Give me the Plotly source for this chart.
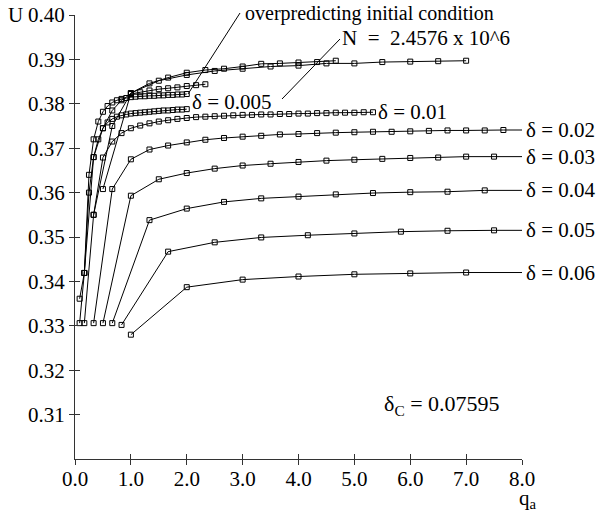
import plotly.graph_objects as go

FONT = "Liberation Serif, Times New Roman, serif"

# ---------------- data ----------------
d06_q = [1.0, 2.0, 3.0, 4.0, 5.0, 6.0, 7.0]
d06_u = [0.3280, 0.3387, 0.3404, 0.3411, 0.3416, 0.3418, 0.3420]

d05_q = [0.833, 1.667, 2.5, 3.333, 4.167, 5.0, 5.833, 6.667, 7.5]
d05_u = [0.3302, 0.3467, 0.3488, 0.3499, 0.3504, 0.3508, 0.3512, 0.3514, 0.3515]

d04_q = [0.667, 1.333, 2.0, 2.667, 3.333, 4.0, 4.667, 5.333, 6.0, 6.667, 7.333]
d04_u = [0.3306, 0.3538, 0.3564, 0.3579, 0.3587, 0.3591, 0.3596, 0.3599, 0.3601, 0.3602, 0.3605]

d03_q = [0.5, 1.0, 1.5, 2.0, 2.5, 3.0, 3.5, 4.0, 4.5, 5.0, 5.5, 6.0, 6.5, 7.0, 7.5]
d03_u = [0.3306, 0.3593, 0.3630, 0.3644, 0.3654, 0.3661, 0.3665, 0.3669, 0.3672,
         0.3674, 0.3676, 0.3678, 0.3679, 0.3681, 0.3681]

d02_q = [0.333, 0.667, 1.0, 1.333, 1.667, 2.0, 2.333, 2.667, 3.0, 3.333, 3.667, 4.0,
         4.333, 4.667, 5.0, 5.333, 5.667, 6.0, 6.333, 6.667, 7.0, 7.333, 7.667]
d02_u = [0.3306, 0.3608, 0.3675, 0.3697, 0.3706, 0.3713, 0.3719, 0.3723, 0.3726, 0.3728,
         0.3731, 0.3732, 0.3734, 0.3735, 0.3736, 0.3737, 0.3737, 0.3738, 0.3739, 0.3740,
         0.3740, 0.3740, 0.3741]

d01_q = [0.167, 0.333, 0.5, 0.667, 0.833, 1.0, 1.167, 1.333, 1.5, 1.667, 1.833, 2.0,
         2.167, 2.333, 2.5, 2.667, 2.833, 3.0, 3.167, 3.333, 3.5, 3.667, 3.833, 4.0,
         4.167, 4.333, 4.5, 4.667, 4.833, 5.0, 5.167, 5.333]
d01_u = [0.3306, 0.3550, 0.3679, 0.3715, 0.3734, 0.3745, 0.3751, 0.3756, 0.3760, 0.3763,
         0.3766, 0.3768, 0.3770, 0.3771, 0.3772, 0.3773, 0.3774, 0.3775, 0.3775, 0.3776,
         0.3776, 0.3777, 0.3777, 0.3778, 0.3778, 0.3779, 0.3779, 0.3780, 0.3780, 0.3780,
         0.3781, 0.3781]

d005_q = [0.083, 0.167, 0.25, 0.333, 0.417, 0.5, 0.583, 0.667, 0.75, 0.833, 0.917, 1.0,
          1.083, 1.167, 1.25, 1.333, 1.417, 1.5, 1.583, 1.667, 1.75, 1.833, 1.917, 2.0]
d005_u = [0.3306, 0.3419, 0.3600, 0.3680, 0.3720, 0.3745, 0.3758, 0.3766, 0.3771, 0.3774,
          0.3776, 0.3778, 0.3779, 0.3780, 0.3781, 0.3782, 0.3783, 0.3784, 0.3785, 0.3785,
          0.3786, 0.3787, 0.3787, 0.3788]

over_q = [0.083, 0.167, 0.25, 0.333, 0.417, 0.5, 0.583, 0.667, 0.75, 0.833, 0.917, 1.0,
          1.083, 1.167, 1.25, 1.333, 1.417, 1.5, 1.583, 1.667, 1.75, 1.833, 1.917, 2.0]
over_u = [0.3361, 0.3419, 0.3640, 0.3720, 0.3760, 0.3782, 0.3795, 0.3803, 0.3808, 0.3811,
          0.3813, 0.3815, 0.3816, 0.3817, 0.3817, 0.3818, 0.3818, 0.3819, 0.3819, 0.3820,
          0.3820, 0.3821, 0.3821, 0.3822]

m1_q = [0.167, 0.333, 0.5, 0.667, 0.833, 1.0, 1.167, 1.333, 1.5, 1.667, 1.833, 2.0, 2.167, 2.333]
m1_u = [0.3419, 0.3680, 0.3745, 0.3785, 0.3808, 0.3822, 0.3826, 0.3830, 0.3833, 0.3835,
        0.3837, 0.3840, 0.3842, 0.3844]

m2_q = [0.333, 0.667, 1.0, 1.333, 1.667, 2.0, 2.333, 2.667, 3.0, 3.333, 3.667, 4.0, 4.333, 4.667]
m2_u = [0.3550, 0.3750, 0.3824, 0.3846, 0.3859, 0.3870, 0.3876, 0.3879, 0.3884, 0.3890,
        0.3891, 0.3893, 0.3894, 0.3897]

n_q = [0.5, 1.0, 1.5, 2.0, 2.5, 3.0, 3.5, 4.0, 4.5, 5.0, 5.5, 6.0, 6.5, 7.0]
n_u = [0.3608, 0.3824, 0.3852, 0.3865, 0.3874, 0.3879, 0.3884, 0.3886, 0.3891, 0.3891,
       0.3894, 0.3895, 0.3896, 0.3897]

labelled = [(d02_q, d02_u, "δ = 0.02"), (d03_q, d03_u, "δ = 0.03"),
            (d04_q, d04_u, "δ = 0.04"), (d05_q, d05_u, "δ = 0.05"),
            (d06_q, d06_u, "δ = 0.06")]
plain = [(d01_q, d01_u), (d005_q, d005_u), (over_q, over_u), (m1_q, m1_u),
         (m2_q, m2_u), (n_q, n_u)]

x_ticks = [0, 1, 2, 3, 4, 5, 6, 7, 8]
x_ticktext = ["0.0", "1.0", "2.0", "3.0", "4.0", "5.0", "6.0", "7.0", "8.0"]
y_ticks = [0.31, 0.32, 0.33, 0.34, 0.35, 0.36, 0.37, 0.38, 0.39, 0.40]
y_ticktext = ["0.31", "0.32", "0.33", "0.34", "0.35", "0.36", "0.37", "0.38", "0.39", "0.40"]
X_MAX = 8.0

# ---------------- layout geometry ----------------
W, H = 606, 519
L, R, T, B = 75, 84, 15, 60
PW, PH = W - L - R, H - T - B


def px(xp):
    return (xp - L) / PW


def py(yp):
    return 1 - (yp - T) / PH


fig = go.Figure()
line_style = dict(color="black", width=1)
marker_style = dict(symbol="square-open", size=5, color="black", line=dict(width=1, color="black"))

for q, u in plain:
    fig.add_trace(go.Scatter(x=q, y=u, mode="lines+markers", line=line_style,
                             marker=marker_style, showlegend=False, hoverinfo="skip"))
for q, u, _ in labelled:
    fig.add_trace(go.Scatter(x=q, y=u, mode="lines+markers", line=line_style,
                             marker=marker_style, showlegend=False, hoverinfo="skip"))
    fig.add_trace(go.Scatter(x=[q[-1], X_MAX], y=[u[-1], u[-1]], mode="lines",
                             line=line_style, showlegend=False, hoverinfo="skip",
                             cliponaxis=False))

# dummy trace for the overlay axes (ticks on the inner side)
fig.add_trace(go.Scatter(x=[0], y=[0.3], xaxis="x2", yaxis="y2", mode="markers",
                         marker=dict(opacity=0), showlegend=False, hoverinfo="skip"))

tickfont = dict(family=FONT, size=21, color="black")
axis_common = dict(showgrid=False, zeroline=False, showline=True, linecolor="#333",
                   linewidth=1, ticks="outside", ticklen=5, tickcolor="#333", tickwidth=1)

fig.update_layout(
    width=W, height=H,
    margin=dict(l=L, r=R, t=T, b=B, pad=0),
    paper_bgcolor="white", plot_bgcolor="white",
    showlegend=False,
    xaxis=dict(range=[0, X_MAX], tickvals=x_ticks, ticktext=x_ticktext,
               tickfont=tickfont, automargin=False, ticklabelstandoff=-4, **axis_common),
    yaxis=dict(range=[0.30, 0.40], tickvals=y_ticks, ticktext=y_ticktext,
               tickfont=tickfont, automargin=False, **axis_common),
    xaxis2=dict(range=[0, X_MAX], overlaying="x", tickvals=x_ticks, showticklabels=False,
                showgrid=False, zeroline=False, showline=False, ticks="inside",
                ticklen=5, tickcolor="#333", side="bottom"),
    yaxis2=dict(range=[0.30, 0.40], overlaying="y", tickvals=y_ticks, showticklabels=False,
                showgrid=False, zeroline=False, showline=False, ticks="inside",
                ticklen=5, tickcolor="#333", side="left"),
)

annots = []
labfont = dict(family=FONT, size=21, color="black")
for q, u, lab in labelled:
    annots.append(dict(x=px(524), xref="paper", y=u[-1], yref="y", text=lab,
                       showarrow=False, xanchor="left", yanchor="middle", font=labfont))
annots.append(dict(x=d01_q[-1], xref="x", y=d01_u[-1], yref="y", text="δ = 0.01",
                   showarrow=False, xanchor="left", yanchor="middle", xshift=3, font=labfont))
annots.append(dict(x=px(190), xref="paper", y=py(102), yref="paper", text="δ = 0.005",
                   showarrow=False, xanchor="left", yanchor="middle", font=labfont))
annots.append(dict(x=px(243), xref="paper", y=py(13), yref="paper",
                   text="overpredicting initial condition", showarrow=False,
                   xanchor="left", yanchor="middle", font=dict(family=FONT, size=20, color="black")))
annots.append(dict(x=px(340), xref="paper", y=py(38), yref="paper",
                   text="N  =  2.4576 x 10^6", showarrow=False,
                   xanchor="left", yanchor="middle", font=dict(family=FONT, size=21, color="black")))
annots.append(dict(x=px(382), xref="paper", y=py(405), yref="paper",
                   text="δ<sub>C</sub>\u00a0=\u00a00.07595", showarrow=False,
                   xanchor="left", yanchor="middle", font=dict(family=FONT, size=22, color="black")))
annots.append(dict(x=px(6), xref="paper", y=py(15), yref="paper", text="U",
                   showarrow=False, xanchor="left", yanchor="middle", font=labfont))
annots.append(dict(x=px(517), xref="paper", y=py(499), yref="paper", text="q<sub>a</sub>",
                   showarrow=False, xanchor="left", yanchor="middle", font=labfont))
fig.update_layout(annotations=annots)

shapes = [
    dict(type="line", xref="paper", yref="paper", x0=px(240), y0=py(13), x1=px(188), y1=py(94),
         line=dict(color="black", width=1)),
    dict(type="line", xref="paper", yref="paper", x0=px(340), y0=py(39), x1=px(282), y1=py(99),
         line=dict(color="black", width=1)),
]
fig.update_layout(shapes=shapes)

fig.write_html("out.html", config={"displayModeBar": False},
               post_script="document.body.style.margin='0px';document.body.style.overflow='hidden';")
